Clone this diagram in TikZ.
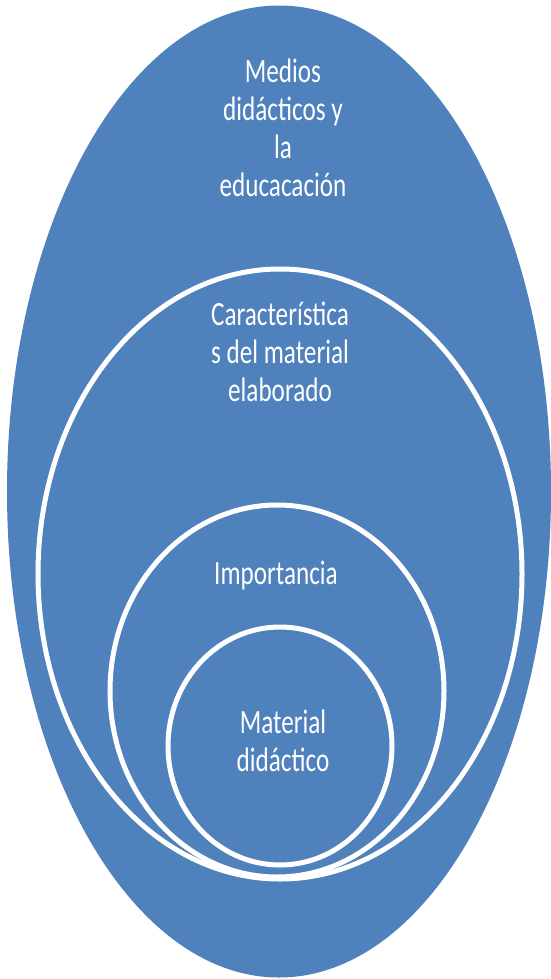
\documentclass[tikz,border=0pt]{standalone}
\usepackage{fontspec}
\setmainfont[FakeStretch=0.74]{Carlito}
\definecolor{blobblue}{HTML}{4F81BD}
\tikzset{
  ring/.style={draw=white, line width=5pt, fill=blobblue},
  lbl/.style={text=white, align=center, inner sep=0pt, font=\fontsize{34}{38}\selectfont}
}
\begin{document}
\begin{tikzpicture}[x=1pt,y=-1pt]
\useasboundingbox (0,0) rectangle (550,979);
\fill[blobblue] (279,491.5) ellipse [x radius=272pt, y radius=486pt];
\draw[ring] (280,574) ellipse [x radius=242pt, y radius=305pt];
\draw[ring] (277,691) ellipse [x radius=167pt, y radius=186pt];
\draw[ring] (280,746) ellipse [x radius=112pt, y radius=119pt];
\node[lbl] (medios) at (283,128) {Medios\\didácticos y\\la\\educacación};
\node[lbl] (caract) at (280,352) {Característica\\s del material\\elaborado};
\node[lbl] (import) at (276,576) {Importancia};
\node[lbl] (mater) at (283,741) {Material\\didáctico};
\end{tikzpicture}
\end{document}
